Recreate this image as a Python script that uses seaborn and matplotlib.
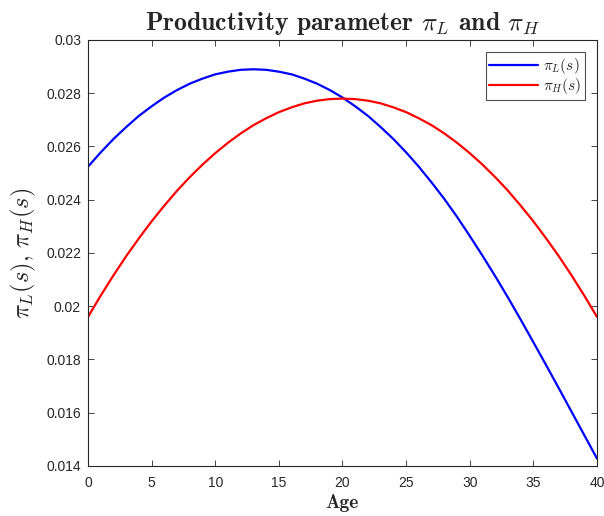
import numpy as np
import pandas as pd
import matplotlib
matplotlib.use("Agg")
import matplotlib.pyplot as plt
import seaborn as sns

age = list(range(0, 41))
pi_L = [0.02524, 0.02578, 0.02628, 0.02673, 0.02715, 0.02751, 0.02784, 0.02812,
        0.02836, 0.02855, 0.02871, 0.02881, 0.02888, 0.02890, 0.02888, 0.02881,
        0.02871, 0.02855, 0.02836, 0.02812, 0.02784, 0.02751, 0.02715, 0.02673,
        0.02628, 0.02578, 0.02524, 0.02465, 0.02403, 0.02336, 0.02264, 0.02190,
        0.02113, 0.02033, 0.01950, 0.01865, 0.01779, 0.01692, 0.01604, 0.01516,
        0.01428]
pi_H = [0.01960, 0.02040, 0.02116, 0.02188, 0.02255, 0.02319, 0.02378, 0.02434,
        0.02485, 0.02532, 0.02575, 0.02614, 0.02649, 0.02680, 0.02706, 0.02729,
        0.02747, 0.02762, 0.02772, 0.02778, 0.02780, 0.02778, 0.02772, 0.02762,
        0.02747, 0.02729, 0.02706, 0.02680, 0.02649, 0.02614, 0.02575, 0.02532,
        0.02485, 0.02434, 0.02378, 0.02319, 0.02255, 0.02188, 0.02116, 0.02040,
        0.01960]
series_labels = [r"$\pi_L(s)$", r"$\pi_H(s)$"]
series_colors = ["#0000ff", "#ff0000"]
x_ticks = [0, 5, 10, 15, 20, 25, 30, 35, 40]
y_ticks = [0.014, 0.016, 0.018, 0.02, 0.022, 0.024, 0.026, 0.028, 0.03]
y_ticklabels = ["0.014", "0.016", "0.018", "0.02", "0.022", "0.024", "0.026", "0.028", "0.03"]

sns.set_style("white")
plt.rcParams["font.family"] = ["Liberation Sans", "DejaVu Sans"]
plt.rcParams["mathtext.fontset"] = "cm"

df = pd.DataFrame({
    "Age": age * 2,
    "value": pi_L + pi_H,
    "series": [series_labels[0]] * len(age) + [series_labels[1]] * len(age),
})

fig = plt.figure(figsize=(6.04, 5.16), dpi=100)
ax = fig.add_axes([0.1457, 0.0969, 0.8427, 0.8256])
sns.lineplot(data=df, x="Age", y="value", hue="series",
             palette=dict(zip(series_labels, series_colors)),
             linewidth=1.6, ax=ax)

ax.set_xlim(0, 40)
ax.set_ylim(0.014, 0.03)
ax.set_xticks(x_ticks)
ax.set_xticklabels([str(t) for t in x_ticks])
ax.set_yticks(y_ticks)
ax.set_yticklabels(y_ticklabels)
ax.tick_params(direction="in", bottom=True, left=True, top=True, right=True,
               length=4, width=0.6, colors="#262626", labelsize=10,
               labelcolor="#262626")
ax.tick_params(axis="x", pad=7)
ax.tick_params(axis="y", pad=5)
for s in ax.spines.values():
    s.set_visible(True)
    s.set_color("#262626")
    s.set_linewidth(0.8)

ax.set_xlabel("Age", fontsize=14, family="cmb10", labelpad=3, color="#262626")
ax.set_ylabel(r"$\pi_L(s),\,\pi_H(s)$", fontsize=17.5, labelpad=6, color="#262626")
ax.set_title(r"Productivity parameter $\pi_L$ and $\pi_H$", fontsize=18.5,
             family="cmb10", pad=7)

leg = ax.legend(loc="upper right", fontsize=11, frameon=True, fancybox=False,
                edgecolor="#262626", handlelength=3.2, handletextpad=0.3,
                borderaxespad=0.8, borderpad=0.25, labelspacing=0.0)
leg.get_frame().set_linewidth(0.8)
leg.set_title(None)

fig.savefig("out.png", dpi=100)
